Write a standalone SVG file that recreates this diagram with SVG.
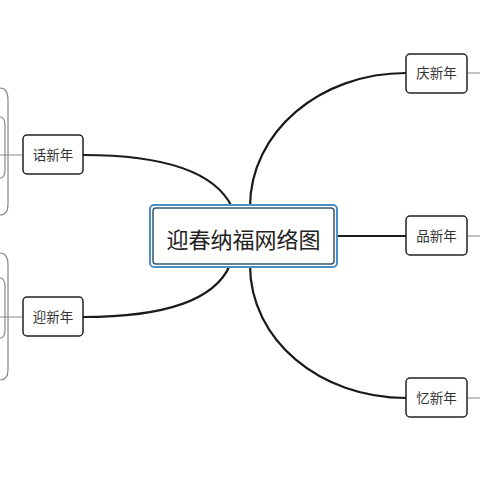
<svg xmlns="http://www.w3.org/2000/svg" width="480" height="480" viewBox="0 0 480 480">
<style>
.node rect{fill:#fff;stroke:#222;stroke-width:1.5}
.node text{font-family:"Noto Sans CJK SC",sans-serif;font-size:13.5px;fill:#333;text-anchor:middle}
.main{fill:none;stroke:#1a1a1a;stroke-width:2.2}
.thin{fill:none;stroke:#888;stroke-width:1.2}
</style>
<rect width="480" height="480" fill="#fff"/>
<g id="connectors">
<path class="main" d="M250,207 C250,132 320,73 406,73"/>
<path class="main" d="M337,236 L406,236"/>
<path class="main" d="M250,265 C250,340 320,398 406,398"/>
<path class="main" d="M83,155 C165,155 215,172 232,207"/>
<path class="main" d="M83,317 C165,317 215,300 230,265"/>
<path class="thin" d="M467,73 L480,73 M467,236 L480,236 M467,398 L480,398"/>
<path class="thin" d="M23,155 L0,155 M23,317 L0,317"/>
<path class="thin" d="M0,88 Q8,88 8,100 L8,204 Q8,215 0,215 M0,117 Q5,117 5,126 L5,170 Q5,178 0,178"/>
<path class="thin" d="M0,253 Q8,253 8,265 L8,370 Q8,380 0,380 M0,278 Q5,278 5,287 L5,330 Q5,338 0,338"/>
</g>
<g id="center">
<rect x="150" y="205" width="187" height="62" rx="4" fill="#fff" stroke="#4a90c8" stroke-width="2"/>
<rect x="153" y="208" width="181" height="56" rx="3" fill="#fff" stroke="#3d5568" stroke-width="1.5"/>
<text x="243.5" y="248" font-family="Noto Sans CJK SC,sans-serif" font-size="22" fill="#222" text-anchor="middle">迎春纳福网络图</text>
</g>
<g id="huaxinnian" class="node"><rect x="23" y="135" width="60" height="39" rx="4"/><text x="53" y="160">话新年</text></g>
<g id="yingxinnian" class="node"><rect x="23" y="297" width="60" height="39" rx="4"/><text x="53" y="322">迎新年</text></g>
<g id="qingxinnian" class="node"><rect x="406" y="54" width="61" height="39" rx="4"/><text x="436.5" y="78">庆新年</text></g>
<g id="pinxinnian" class="node"><rect x="406" y="216" width="61" height="39" rx="4"/><text x="436.5" y="240.5">品新年</text></g>
<g id="yixinnian" class="node"><rect x="406" y="378" width="61" height="39" rx="4"/><text x="436.5" y="402.5">忆新年</text></g>
</svg>
